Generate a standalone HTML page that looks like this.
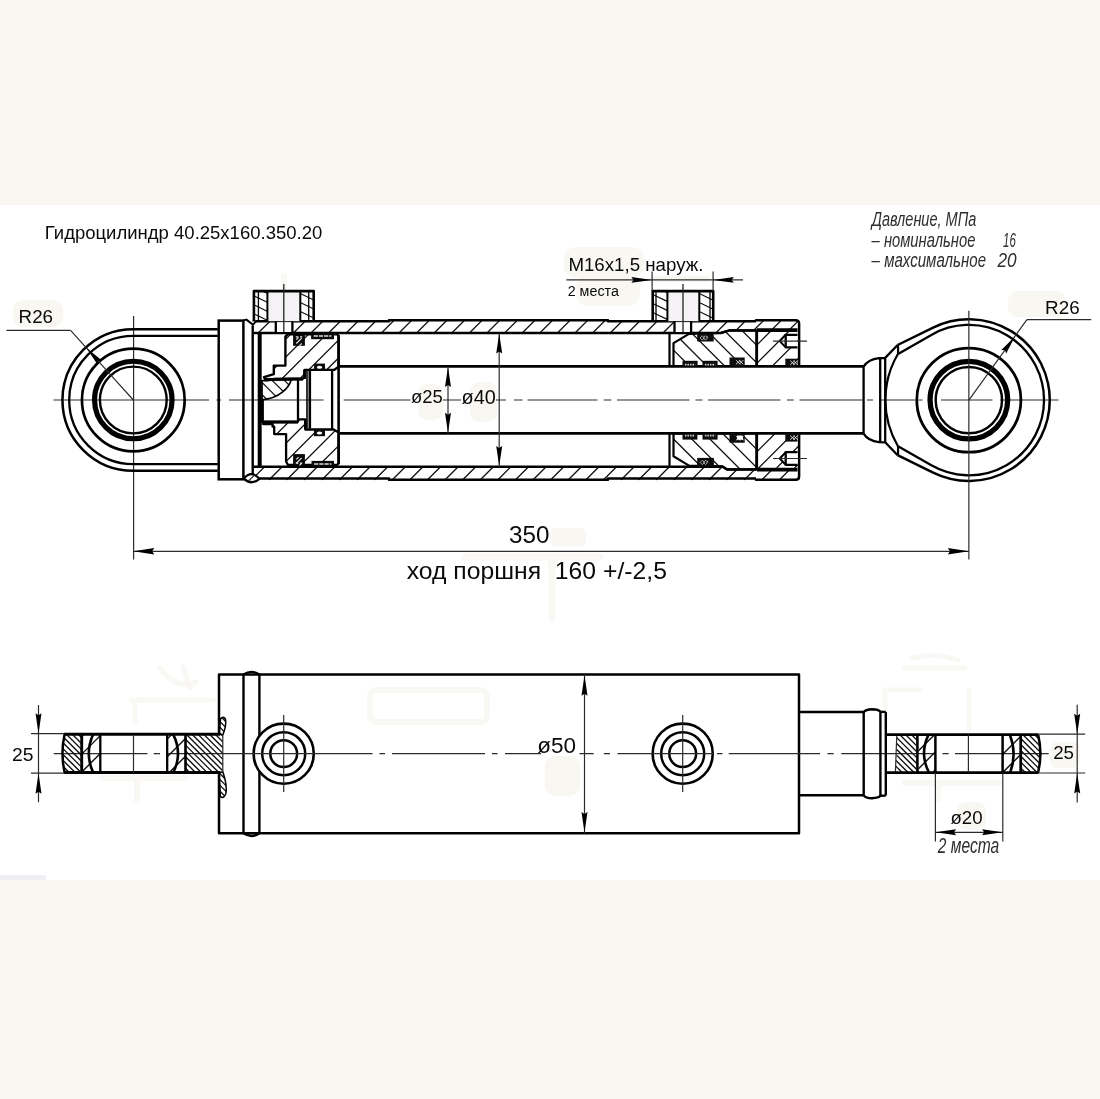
<!DOCTYPE html>
<html lang="ru">
<head>
<meta charset="utf-8">
<title>Гидроцилиндр 40.25х160.350.20</title>
<style>
html,body{margin:0;padding:0;background:#f9f6f1;}
body{width:1100px;height:1099px;overflow:hidden;position:relative;}
#sheet{position:absolute;left:0;top:205px;width:1100px;height:675px;background:#fff;}
svg{position:absolute;left:0;top:0;will-change:transform;}
text{font-family:"Liberation Sans",sans-serif;fill:#0a0a0a;}
</style>
</head>
<body>
<div id="sheet"></div>
<svg width="1100" height="1099" viewBox="0 0 1100 1099">
<defs>
<clipPath id="c1"><path d="M252.7 320H275.8V333.2H252.7Z M292.4 320H674.5V333.2H292.4Z M691.1 320H798L798 330.2H729.5L721 333.2H691.1Z"/></clipPath>
<clipPath id="c2"><path d="M252.7 466.8H720L729.5 469.6H798L797 480.4H252.7Z"/></clipPath>
<clipPath id="c3"><path d="M253.9 291.1H267.4V321.2H253.9Z"/></clipPath>
<clipPath id="c4"><path d="M300.3 291.1H313.7V321.2H300.3Z"/></clipPath>
<clipPath id="c5"><path d="M652.7 291.1H667.4V321.2H652.7Z"/></clipPath>
<clipPath id="c6"><path d="M699.3 291.1H713.2V321.2H699.3Z"/></clipPath>
<clipPath id="c7"><path d="M285.4 336.6L287.6 334.3L337 334.3L338.6 336L338.6 366.8L334 369.9L304.5 369.9L304.5 377.4L302 379.4L297.5 378.8L275 379L265.8 380.4L264 377.1L273.8 374.2L273.8 365.6L285.4 365.6Z"/></clipPath>
<clipPath id="c8"><path d="M262 380.6L291.2 379.4C289.6 387 280 398.4 262 399.8Z"/></clipPath>
<clipPath id="c9"><path d="M263.2 424.2L272.6 424.2L272.6 426.7L274.2 426.7L274.2 434.1L286.1 434.1L286.1 461.5L288 465L337 465L338.6 463.4L338.6 432.4L333.6 429.5L305.3 429.5L305.3 419.3L299.2 419.3L297.6 422L263.2 422Z"/></clipPath>
<clipPath id="c10"><path d="M673.5 366L673.5 343.1L689 333.9L721 332.8L729.5 330.4L756.5 330.4L756.5 366Z"/></clipPath>
<clipPath id="c11"><path d="M673.5 433.5L673.5 456.2L689 465.6L722.5 466.4L727 469.3L756.5 469.3L756.5 433.5Z"/></clipPath>
<clipPath id="c12"><path d="M756.5 331.6L798.4 331.6L798.4 366L756.5 366Z"/></clipPath>
<clipPath id="c13"><path d="M756.5 433.5L798.4 433.5L798.4 468L756.5 468Z"/></clipPath>
<clipPath id="c14"><path d="M64.5 734.3H81.6V772.6H64.5Q60.4 753.6 64.5 734.3Z"/></clipPath>
<clipPath id="c15"><path d="M185.6 734.3H222.9V772.6H185.6ZM219.1 734.3L220.6 718.6Q223.8 715.4 225.6 719.6Q226.4 726 222.9 734.8ZM219.1 772.6L222.9 772.1Q227.6 786 225.8 794Q223.2 799.2 220.4 796.6Z"/></clipPath>
<clipPath id="c16"><path d="M82.4 734.3H100V772.6H82.4Z"/></clipPath>
<clipPath id="c17"><path d="M167 734.3H185V772.6H167Z"/></clipPath>
<clipPath id="c18"><path d="M896.8 734.6H916.4V772.6H895.4Q897 753.6 896.8 734.6Z"/></clipPath>
<clipPath id="c19"><path d="M1021.4 734.6H1038.2Q1042.6 753.6 1038.2 772.6H1021.4Z"/></clipPath>
<clipPath id="c20"><path d="M918.4 734.6H935V772.6H918.4Z"/></clipPath>
<clipPath id="c21"><path d="M1002 734.6H1020V772.6H1002Z"/></clipPath>
</defs>
<rect x="0" y="875" width="46" height="5" fill="#eef0f3"/>
<rect x="13" y="300" width="50" height="27" rx="10" fill="#f9f7f2"/>
<rect x="1008" y="291" width="58" height="26" rx="10" fill="#f9f7f2"/>
<rect x="564" y="247" width="80" height="31" rx="12" fill="#f9f7f2"/>
<rect x="576" y="276" width="64" height="30" rx="12" fill="#f9f7f2"/>
<rect x="652" y="276" width="58" height="6" rx="3" fill="#f9f7f2"/>
<rect x="418" y="384" width="25" height="36" rx="9" fill="#f9f7f2"/>
<rect x="470" y="382" width="27" height="40" rx="9" fill="#f9f7f2"/>
<rect x="550" y="528" width="36" height="18" rx="6" fill="#f9f7f2"/>
<path d="M465 557H600 M552 560V618" fill="none" stroke="#faf8f4" stroke-width="7" stroke-linecap="round" stroke-linejoin="round"/>
<path d="M256 293H313 M284 276V292" fill="none" stroke="#faf8f4" stroke-width="6" stroke-linecap="round" stroke-linejoin="round"/>
<rect x="370" y="690" width="117" height="32" rx="6" fill="none" stroke="#faf8f4" stroke-width="6"/>
<path d="M131 700H214 M135 700V722 M160 668Q175 690 196 682 M183 666L190 688" fill="none" stroke="#faf8f4" stroke-width="5" stroke-linecap="round" stroke-linejoin="round"/>
<path d="M102 778H186 M137 782V800" fill="none" stroke="#faf8f4" stroke-width="6" stroke-linecap="round" stroke-linejoin="round"/>
<path d="M905 668H965 M912 658Q935 652 958 660 M885 690V728 M969 690V730 M885 690H920" fill="none" stroke="#faf8f4" stroke-width="5" stroke-linecap="round" stroke-linejoin="round"/>
<path d="M905 783H1000 M938 786V800" fill="none" stroke="#faf8f4" stroke-width="6" stroke-linecap="round" stroke-linejoin="round"/>
<rect x="545" y="756" width="35" height="40" rx="10" fill="#f9f7f2"/>
<rect x="957" y="802" width="29" height="28" rx="9" fill="#f9f7f2"/>
<rect x="1050" y="742" width="30" height="26" rx="8" fill="#f9f7f2"/>
<line x1="133.6" y1="316" x2="133.6" y2="559.6" stroke="#2c2c2c" stroke-width="1.2"/>
<path d="M53.5 400H209M216.4 400H221M229 400H323.6M343.7 400H410.5M443 400H461M496 400H506M514 400H522.5M527.5 400H597.5M603.75 400H611.25M617 400H689.5M695.5 400H702.5M708 400H780.5M787 400H793.75M799.5 400H862.5M867 400H873M879 400H915M918.6 400H922.5M941 400H992.5M1000 400H1058.5" fill="none" stroke="#2c2c2c" stroke-width="1.2"/>
<path d="M217.8 329.15 H133.3 A70.85 70.85 0 0 0 133.3 470.85 H217.8" fill="none" stroke="#000" stroke-width="2.5" stroke-linejoin="round"/>
<path d="M217.8 335.9 H133.3 A64.1 64.1 0 0 0 133.3 464.1 H217.8" fill="none" stroke="#000" stroke-width="2.3" stroke-linejoin="round"/>
<circle cx="133.3" cy="400" r="51.35" fill="none" stroke="#000" stroke-width="2.7"/>
<circle cx="133.3" cy="400" r="38.75" fill="none" stroke="#000" stroke-width="5.2"/>
<circle cx="133.3" cy="400" r="33.4" fill="none" stroke="#000" stroke-width="2.4"/>
<line x1="6.5" y1="330.4" x2="70.6" y2="330.4" stroke="#2c2c2c" stroke-width="1.2"/>
<line x1="70.6" y1="330.4" x2="133.3" y2="400" stroke="#2c2c2c" stroke-width="1.2"/>
<polygon points="86.3,347.7 101.92,360.55 98.35,361.07 97.46,364.57" fill="#000"/>
<text transform="translate(18.6 322.8) scale(0.9943 1)" font-size="18.88">R26</text>
<rect x="218.7" y="320.6" width="24.7" height="158.7" fill="none" stroke="#000" stroke-width="2.5"/>
<path d="M243.6 320.4L246.4 319.6L253 324.8L255.8 321.4" fill="#fff" stroke="#000" stroke-width="2" stroke-linejoin="round"/>
<path clip-path="url(#c1)" d="M205.4 333L219.4 319M223 333L237 319M240.6 333L254.6 319M258.2 333L272.2 319M275.8 333L289.8 319M293.4 333L307.4 319M311 333L325 319M328.6 333L342.6 319M346.2 333L360.2 319M363.8 333L377.8 319M381.4 333L395.4 319M399 333L413 319M416.6 333L430.6 319M434.2 333L448.2 319M451.8 333L465.8 319M469.4 333L483.4 319M487 333L501 319M504.6 333L518.6 319M522.2 333L536.2 319M539.8 333L553.8 319M557.4 333L571.4 319M575 333L589 319M592.6 333L606.6 319M610.2 333L624.2 319M627.8 333L641.8 319M645.4 333L659.4 319M663 333L677 319M680.6 333L694.6 319M698.2 333L712.2 319M715.8 333L729.8 319M733.4 333L747.4 319M751 333L765 319M768.6 333L782.6 319M786.2 333L800.2 319M803.8 333L817.8 319M821.4 333L835.4 319" fill="none" stroke="#111" stroke-width="1.3"/>
<path clip-path="url(#c2)" d="M216.1 480L230.1 466M233.7 480L247.7 466M251.3 480L265.3 466M268.9 480L282.9 466M286.5 480L300.5 466M304.1 480L318.1 466M321.7 480L335.7 466M339.3 480L353.3 466M356.9 480L370.9 466M374.5 480L388.5 466M392.1 480L406.1 466M409.7 480L423.7 466M427.3 480L441.3 466M444.9 480L458.9 466M462.5 480L476.5 466M480.1 480L494.1 466M497.7 480L511.7 466M515.3 480L529.3 466M532.9 480L546.9 466M550.5 480L564.5 466M568.1 480L582.1 466M585.7 480L599.7 466M603.3 480L617.3 466M620.9 480L634.9 466M638.5 480L652.5 466M656.1 480L670.1 466M673.7 480L687.7 466M691.3 480L705.3 466M708.9 480L722.9 466M726.5 480L740.5 466M744.1 480L758.1 466M761.7 480L775.7 466M779.3 480L793.3 466M796.9 480L810.9 466M814.5 480L828.5 466" fill="none" stroke="#111" stroke-width="1.3"/>
<path d="M255.2 321.2H389V320.3H608V321.2H756" fill="none" stroke="#000" stroke-width="2.5" stroke-linejoin="round"/>
<path d="M756 321.2V320.2H795.6Q799.1 320.2 799.1 323.6V366.45" fill="none" stroke="#000" stroke-width="2.5" stroke-linejoin="round"/>
<path d="M256.7 478.4H389V479.8H608V478.4H756" fill="none" stroke="#000" stroke-width="2.5" stroke-linejoin="round"/>
<path d="M756 478.4V479.8H795.6Q799.1 479.8 799.1 476.4V433.4" fill="none" stroke="#000" stroke-width="2.5" stroke-linejoin="round"/>
<path d="M252.7 333H721L729.5 330.4H756.5" fill="none" stroke="#000" stroke-width="2.5" stroke-linejoin="round"/>
<path d="M252.7 466.7H722.5L727 469.4H756.5" fill="none" stroke="#000" stroke-width="2.5" stroke-linejoin="round"/>
<line x1="252.7" y1="325.5" x2="252.7" y2="476" stroke="#000" stroke-width="2.4"/>
<line x1="259.7" y1="333" x2="259.7" y2="466.7" stroke="#000" stroke-width="4"/>
<line x1="757" y1="330.2" x2="797.5" y2="330.2" stroke="#000" stroke-width="3.8"/>
<line x1="757" y1="469.6" x2="797.5" y2="469.6" stroke="#000" stroke-width="3.8"/>
<path d="M243.8 478.6Q251.3 469.6 259.4 478.8Q251.3 485.8 243.8 478.6Z" fill="#fff" stroke="#000" stroke-width="2.2" stroke-linejoin="round"/>
<line x1="248.6" y1="480.8" x2="254.4" y2="475.2" stroke="#333" stroke-width="1.2"/>
<rect x="267.4" y="291.1" width="32.9" height="30.1" fill="#f4f2f4" stroke="none" stroke-width="0"/>
<path clip-path="url(#c3)" d="M169.06 291.1L231.77 321.2M187.81 291.1L250.52 321.2M206.56 291.1L269.27 321.2M225.31 291.1L288.02 321.2M244.06 291.1L306.77 321.2M262.81 291.1L325.52 321.2M281.56 291.1L344.27 321.2M300.31 291.1L363.02 321.2M319.06 291.1L381.77 321.2M337.81 291.1L400.52 321.2" fill="none" stroke="#111" stroke-width="1.25"/>
<path clip-path="url(#c4)" d="M201.42 291.1L264.12 321.2M220.17 291.1L282.88 321.2M238.92 291.1L301.62 321.2M257.67 291.1L320.38 321.2M276.42 291.1L339.12 321.2M295.17 291.1L357.88 321.2M313.92 291.1L376.62 321.2M332.67 291.1L395.38 321.2M351.42 291.1L414.12 321.2M370.17 291.1L432.88 321.2M388.92 291.1L451.62 321.2" fill="none" stroke="#111" stroke-width="1.25"/>
<path d="M253.9 321.2V291.1H313.7V321.2" fill="none" stroke="#000" stroke-width="2.6" stroke-linejoin="round"/>
<line x1="267.4" y1="291.1" x2="267.4" y2="321.2" stroke="#000" stroke-width="2"/>
<line x1="300.3" y1="291.1" x2="300.3" y2="321.2" stroke="#000" stroke-width="2"/>
<line x1="258.4" y1="291.1" x2="258.4" y2="321.2" stroke="#000" stroke-width="1.3"/>
<line x1="308.7" y1="291.1" x2="308.7" y2="321.2" stroke="#000" stroke-width="1.3"/>
<rect x="275.8" y="322.2" width="16.6" height="9.8" fill="#fff" stroke="none" stroke-width="0"/>
<line x1="275.8" y1="321.2" x2="275.8" y2="333" stroke="#000" stroke-width="2.3"/>
<line x1="292.4" y1="321.2" x2="292.4" y2="333" stroke="#000" stroke-width="2.3"/>
<line x1="283.8" y1="284" x2="283.8" y2="332.4" stroke="#222" stroke-width="1.3"/>
<rect x="667.4" y="291.1" width="31.9" height="30.1" fill="#f4f2f4" stroke="none" stroke-width="0"/>
<path clip-path="url(#c5)" d="M570.76 291.1L633.47 321.2M589.51 291.1L652.22 321.2M608.26 291.1L670.97 321.2M627.01 291.1L689.72 321.2M645.76 291.1L708.47 321.2M664.51 291.1L727.22 321.2M683.26 291.1L745.97 321.2M702.01 291.1L764.72 321.2M720.76 291.1L783.47 321.2M739.51 291.1L802.22 321.2" fill="none" stroke="#111" stroke-width="1.25"/>
<path clip-path="url(#c6)" d="M600.52 291.1L663.23 321.2M619.27 291.1L681.98 321.2M638.02 291.1L700.73 321.2M656.77 291.1L719.48 321.2M675.52 291.1L738.23 321.2M694.27 291.1L756.98 321.2M713.02 291.1L775.73 321.2M731.77 291.1L794.48 321.2M750.52 291.1L813.23 321.2M769.27 291.1L831.98 321.2M788.02 291.1L850.73 321.2" fill="none" stroke="#111" stroke-width="1.25"/>
<path d="M652.7 321.2V291.1H713.2V321.2" fill="none" stroke="#000" stroke-width="2.6" stroke-linejoin="round"/>
<line x1="667.4" y1="291.1" x2="667.4" y2="321.2" stroke="#000" stroke-width="2"/>
<line x1="699.3" y1="291.1" x2="699.3" y2="321.2" stroke="#000" stroke-width="2"/>
<line x1="656" y1="291.1" x2="656" y2="321.2" stroke="#000" stroke-width="1.3"/>
<line x1="710" y1="291.1" x2="710" y2="321.2" stroke="#000" stroke-width="1.3"/>
<rect x="674.5" y="322.2" width="16.6" height="9.8" fill="#fff" stroke="none" stroke-width="0"/>
<line x1="674.5" y1="321.2" x2="674.5" y2="333" stroke="#000" stroke-width="2.3"/>
<line x1="691.1" y1="321.2" x2="691.1" y2="333" stroke="#000" stroke-width="2.3"/>
<line x1="683" y1="284" x2="683" y2="332.4" stroke="#222" stroke-width="1.3"/>
<line x1="338.7" y1="366.45" x2="863.3" y2="366.45" stroke="#000" stroke-width="2.8"/>
<line x1="339.3" y1="433.4" x2="863.3" y2="433.4" stroke="#000" stroke-width="2.8"/>
<path clip-path="url(#c7)" d="M190.2 381L238.2 333M208.1 381L256.1 333M226 381L274 333M243.9 381L291.9 333M261.8 381L309.8 333M279.7 381L327.7 333M297.6 381L345.6 333M315.5 381L363.5 333M333.4 381L381.4 333M351.3 381L399.3 333M369.2 381L417.2 333M387.1 381L435.1 333M405 381L453 333" fill="none" stroke="#111" stroke-width="1.3"/>
<polygon points="285.4,336.6 287.6,334.3 337,334.3 338.6,336 338.6,366.8 334,369.9 304.5,369.9 304.5,377.4 302,379.4 297.5,378.8 275,379 265.8,380.4 264,377.1 273.8,374.2 273.8,365.6 285.4,365.6" fill="none" stroke="#000" stroke-width="2.4" stroke-linejoin="round"/>
<line x1="265.6" y1="379.3" x2="303" y2="379" stroke="#000" stroke-width="2.8"/>
<path clip-path="url(#c8)" d="M222 379L243 400M234.2 379L255.2 400M246.4 379L267.4 400M258.6 379L279.6 400M270.8 379L291.8 400M283 379L304 400M295.2 379L316.2 400M307.4 379L328.4 400M319.6 379L340.6 400" fill="none" stroke="#111" stroke-width="1.2"/>
<path d="M262 380.6L291.2 379.4C289.6 387 280 398.4 262 399.8Z" fill="none" stroke="#000" stroke-width="1.7" stroke-linejoin="round"/>
<path clip-path="url(#c9)" d="M189.5 466L236.5 419M207.9 466L254.9 419M226.3 466L273.3 419M244.7 466L291.7 419M263.1 466L310.1 419M281.5 466L328.5 419M299.9 466L346.9 419M318.3 466L365.3 419M336.7 466L383.7 419M355.1 466L402.1 419M373.5 466L420.5 419M391.9 466L438.9 419" fill="none" stroke="#111" stroke-width="1.3"/>
<polygon points="263.2,424.2 272.6,424.2 272.6,426.7 274.2,426.7 274.2,434.1 286.1,434.1 286.1,461.5 288,465 337,465 338.6,463.4 338.6,432.4 333.6,429.5 305.3,429.5 305.3,419.3 299.2,419.3 297.6,422 263.2,422" fill="none" stroke="#000" stroke-width="2.3" stroke-linejoin="round"/>
<line x1="261.6" y1="400" x2="261.6" y2="423" stroke="#000" stroke-width="4.6"/>
<line x1="262.3" y1="422" x2="298" y2="422" stroke="#000" stroke-width="3.2"/>
<path d="M298 380V420.5" fill="none" stroke="#000" stroke-width="2.3" stroke-linejoin="round"/>
<path d="M304.6 370V379 M305.3 419.3V429.5" fill="none" stroke="#000" stroke-width="2.6" stroke-linejoin="round"/>
<path d="M307 369.9V428.6" fill="none" stroke="#000" stroke-width="1.6" stroke-linejoin="round"/>
<path d="M309.8 369.9V428.6" fill="none" stroke="#000" stroke-width="2.6" stroke-linejoin="round"/>
<path d="M332.1 369.9V429.5" fill="none" stroke="#000" stroke-width="2.3" stroke-linejoin="round"/>
<line x1="338.6" y1="335" x2="338.6" y2="464" stroke="#000" stroke-width="2.6"/>
<rect x="293.1" y="334.4" width="11.8" height="11.4" fill="#0a0a0a" stroke="none" stroke-width="0"/>
<path d="M296.3 343.5l5.4 -5.4m-5.4 1.6l2.2 -2.2m3.2 6l-2.2 2.2" stroke="#e8e8e8" stroke-width="1.1" fill="none"/>
<path d="M295.8 336.8h2.6m1.6 0h2.2" stroke="#e8e8e8" stroke-width="1.2" fill="none"/>
<rect x="293.1" y="454.1" width="11.8" height="11.5" fill="#0a0a0a" stroke="none" stroke-width="0"/>
<path d="M296.3 463.25l5.4 -5.4m-5.4 1.6l2.2 -2.2m3.2 6l-2.2 2.2" stroke="#e8e8e8" stroke-width="1.1" fill="none"/>
<path d="M295.8 463.2h2.6m1.6 0h2.2" stroke="#e8e8e8" stroke-width="1.2" fill="none"/>
<rect x="311.1" y="334.1" width="22.9" height="5.1" fill="#0a0a0a" stroke="none" stroke-width="0"/>
<path d="M313.7 336h17.7" stroke="#dcdcdc" stroke-width="1.5" stroke-dasharray="4.2 1" fill="none"/>
<rect x="311.5" y="460.9" width="22.5" height="4.9" fill="#0a0a0a" stroke="none" stroke-width="0"/>
<path d="M314.1 463.9h17.3" stroke="#dcdcdc" stroke-width="1.5" stroke-dasharray="4.2 1" fill="none"/>
<rect x="314.1" y="363.6" width="10.9" height="6.7" fill="#0a0a0a" stroke="none" stroke-width="0"/>
<ellipse cx="319.55" cy="367.15" rx="2.7" ry="1.5" fill="#fff"/>
<rect x="313.9" y="429.6" width="11.1" height="6.6" fill="#0a0a0a" stroke="none" stroke-width="0"/>
<ellipse cx="319.45" cy="433.1" rx="2.7" ry="1.5" fill="#fff"/>
<path clip-path="url(#c10)" d="M599.6 329L637.6 367M617.2 329L655.2 367M634.8 329L672.8 367M652.4 329L690.4 367M670 329L708 367M687.6 329L725.6 367M705.2 329L743.2 367M722.8 329L760.8 367M740.4 329L778.4 367M758 329L796 367M775.6 329L813.6 367M793.2 329L831.2 367M810.8 329L848.8 367" fill="none" stroke="#111" stroke-width="1.3"/>
<path clip-path="url(#c11)" d="M612.9 433L649.9 470M631.1 433L668.1 470M649.3 433L686.3 470M667.5 433L704.5 470M685.7 433L722.7 470M703.9 433L740.9 470M722.1 433L759.1 470M740.3 433L777.3 470M758.5 433L795.5 470M776.7 433L813.7 470M794.9 433L831.9 470" fill="none" stroke="#111" stroke-width="1.3"/>
<polygon points="673.5,366 673.5,343.1 689,333.9 721,332.8 729.5,330.4 756.5,330.4 756.5,366" fill="none" stroke="#000" stroke-width="2.2" stroke-linejoin="round"/>
<polygon points="673.5,433.5 673.5,456.2 689,465.6 722.5,466.4 727,469.3 756.5,469.3 756.5,433.5" fill="none" stroke="#000" stroke-width="2.2" stroke-linejoin="round"/>
<line x1="669.5" y1="333" x2="669.5" y2="366.45" stroke="#000" stroke-width="2.2"/>
<line x1="669.5" y1="433.4" x2="669.5" y2="466.7" stroke="#000" stroke-width="2.2"/>
<path clip-path="url(#c12)" d="M698.2 367L734.2 331M716.5 367L752.5 331M734.8 367L770.8 331M753.1 367L789.1 331M771.4 367L807.4 331M789.7 367L825.7 331M808 367L844 331M826.3 367L862.3 331M844.6 367L880.6 331" fill="none" stroke="#111" stroke-width="1.3"/>
<path clip-path="url(#c13)" d="M686.6 468L721.6 433M704.6 468L739.6 433M722.6 468L757.6 433M740.6 468L775.6 433M758.6 468L793.6 433M776.6 468L811.6 433M794.6 468L829.6 433M812.6 468L847.6 433M830.6 468L865.6 433M848.6 468L883.6 433" fill="none" stroke="#111" stroke-width="1.3"/>
<line x1="756.8" y1="330" x2="756.8" y2="366" stroke="#000" stroke-width="2.6"/>
<line x1="756.8" y1="433.5" x2="756.8" y2="469.4" stroke="#000" stroke-width="2.6"/>
<rect x="697.2" y="333.8" width="16.5" height="7.7" fill="#0c0c0c" stroke="none" stroke-width="0"/>
<path d="M700.05 337.95l2.2 -2.2l2.2 2.2l-2.2 2.2zm3.2 0l2.2 -2.2l2.2 2.2l-2.2 2.2zm3.2 0l1.6 -1.6" stroke="#cfcfcf" stroke-width="0.8" fill="none"/>
<rect x="697.2" y="457.9" width="16.7" height="8.4" fill="#0c0c0c" stroke="none" stroke-width="0"/>
<path d="M700.15 462.4l2.2 -2.2l2.2 2.2l-2.2 2.2zm3.2 0l2.2 -2.2l2.2 2.2l-2.2 2.2zm3.2 0l1.6 -1.6" stroke="#cfcfcf" stroke-width="0.8" fill="none"/>
<rect x="682.5" y="360.8" width="15.1" height="5.8" fill="#0c0c0c" stroke="none" stroke-width="0"/>
<path d="M684.9 364.6h10.3" stroke="#c8c8c8" stroke-width="1.7" stroke-dasharray="1.6 0.9" fill="none"/>
<rect x="702.5" y="360.8" width="15.1" height="5.8" fill="#0c0c0c" stroke="none" stroke-width="0"/>
<path d="M704.9 364.6h10.3" stroke="#c8c8c8" stroke-width="1.7" stroke-dasharray="1.6 0.9" fill="none"/>
<rect x="682.5" y="433.4" width="14.9" height="6.2" fill="#0c0c0c" stroke="none" stroke-width="0"/>
<path d="M684.9 435.6h10.1" stroke="#c8c8c8" stroke-width="1.7" stroke-dasharray="1.6 0.9" fill="none"/>
<rect x="702.5" y="433.4" width="15.1" height="6.2" fill="#0c0c0c" stroke="none" stroke-width="0"/>
<path d="M704.9 435.6h10.3" stroke="#c8c8c8" stroke-width="1.7" stroke-dasharray="1.6 0.9" fill="none"/>
<rect x="729.5" y="357.5" width="15.2" height="9.1" fill="#0c0c0c" stroke="none" stroke-width="0"/>
<path d="M735.9 360.15l4.6 4.2m0 -4.2l-4.6 4.2m3.2 -4.2l4.2 4.2m0 -4.2l-4.2 4.2" stroke="#e6e6e6" stroke-width="0.9" fill="none"/>
<rect x="729.5" y="433.4" width="15.2" height="9.3" fill="#0c0c0c" stroke="none" stroke-width="0"/>
<path d="M735.9 436.15l4.6 4.2m0 -4.2l-4.6 4.2m3.2 -4.2l4.2 4.2m0 -4.2l-4.2 4.2" stroke="#e6e6e6" stroke-width="0.9" fill="none"/>
<path d="M737 435.5h5.5l1 4.2h-6.5z" fill="#fff"/>
<rect x="785.3" y="358.7" width="12.2" height="7.7" fill="#0c0c0c" stroke="none" stroke-width="0"/>
<path d="M790.2 360.65l4.6 4.2m0 -4.2l-4.6 4.2m3.2 -4.2l4.2 4.2m0 -4.2l-4.2 4.2" stroke="#e6e6e6" stroke-width="0.9" fill="none"/>
<rect x="785.3" y="433.4" width="12.2" height="8.2" fill="#0c0c0c" stroke="none" stroke-width="0"/>
<path d="M790.2 435.6l4.6 4.2m0 -4.2l-4.6 4.2m3.2 -4.2l4.2 4.2m0 -4.2l-4.2 4.2" stroke="#e6e6e6" stroke-width="0.9" fill="none"/>
<path d="M785.7 334.8L779.8 341.1L785.7 347.4" fill="#fff" stroke="#000" stroke-width="2" stroke-linejoin="round"/>
<path d="M797.5 334.8H785.7V347.4H797.5" fill="#fff" stroke="#000" stroke-width="2.3" stroke-linejoin="round"/>
<line x1="773" y1="341.1" x2="807" y2="341.1" stroke="#2c2c2c" stroke-width="1.2"/>
<path d="M785.7 452.2L779.8 458.5L785.7 464.8" fill="#fff" stroke="#000" stroke-width="2" stroke-linejoin="round"/>
<path d="M797.5 452.2H785.7V464.8H797.5" fill="#fff" stroke="#000" stroke-width="2.3" stroke-linejoin="round"/>
<line x1="773" y1="458.5" x2="807" y2="458.5" stroke="#2c2c2c" stroke-width="1.2"/>
<path d="M897.6 345L933.13 327.52A80.9 80.9 0 1 1 933.13 472.68L897.6 455.2" fill="none" stroke="#000" stroke-width="2.5" stroke-linejoin="round"/>
<path d="M898.5 353.8L931.37 334.9A75.2 75.2 0 1 1 931.37 465.3L898.5 446.4" fill="none" stroke="#000" stroke-width="2.3" stroke-linejoin="round"/>
<line x1="898.05" y1="345" x2="898.05" y2="354.1" stroke="#000" stroke-width="2.2"/>
<line x1="898.05" y1="455.2" x2="898.05" y2="446.1" stroke="#000" stroke-width="2.2"/>
<path d="M898.2 353.5A91.2 91.2 0 0 0 898.2 446.7" fill="none" stroke="#000" stroke-width="2.2" stroke-linejoin="round"/>
<circle cx="968.85" cy="400.1" r="52.05" fill="none" stroke="#000" stroke-width="2.8"/>
<circle cx="968.85" cy="400.1" r="38.8" fill="none" stroke="#000" stroke-width="5.3"/>
<circle cx="968.85" cy="400.1" r="33.2" fill="none" stroke="#000" stroke-width="2.45"/>
<path d="M863.6 366.5V433.4 M863.6 366.6Q868 359.4 879 358.1L885.2 357.9 M863.6 433.6Q868 440.8 879 442.1L885.2 442.3 M880.2 358V442.2 M885.2 357.9V442.3 M885.2 357.9L897.6 345 M885.2 442.3L897.6 455.2" fill="none" stroke="#000" stroke-width="2.3" stroke-linejoin="round"/>
<line x1="968.85" y1="310.7" x2="968.85" y2="559.6" stroke="#2c2c2c" stroke-width="1.2"/>
<line x1="1026.9" y1="319.7" x2="1091.2" y2="319.7" stroke="#2c2c2c" stroke-width="1.2"/>
<line x1="1026.9" y1="319.7" x2="968.85" y2="400.1" stroke="#2c2c2c" stroke-width="1.2"/>
<polygon points="1014.9,336.4 1006.21,353.56 1004.89,350.26 1001.35,350.05" fill="#000"/>
<text transform="translate(1045.09 313.5) scale(1.0090 1)" font-size="18.66">R26</text>
<line x1="448" y1="366.45" x2="448" y2="433.4" stroke="#2c2c2c" stroke-width="1.2"/>
<polygon points="448,367.05 451,387.05 448,385.05 445,387.05" fill="#000"/>
<polygon points="448,432.8 445,412.8 448,414.8 451,412.8" fill="#000"/>
<text transform="translate(411.04 403.3) scale(0.9991 1)" font-size="18.45">ø25</text>
<line x1="499.2" y1="333" x2="499.2" y2="466.7" stroke="#2c2c2c" stroke-width="1.2"/>
<polygon points="499.2,333.6 502.2,353.6 499.2,351.6 496.2,353.6" fill="#000"/>
<polygon points="499.2,466.1 496.2,446.1 499.2,448.1 502.2,446.1" fill="#000"/>
<text transform="translate(461.5 404.4) scale(0.9643 1)" font-size="20.61">ø40</text>
<line x1="133.3" y1="551.3" x2="968.85" y2="551.3" stroke="#2c2c2c" stroke-width="1.2"/>
<polygon points="133.3,551.3 154.3,548.1 152.2,551.3 154.3,554.5" fill="#000"/>
<polygon points="968.85,551.3 947.85,554.5 949.95,551.3 947.85,548.1" fill="#000"/>
<text transform="translate(509.03 543) scale(1.0150 1)" font-size="23.87">350</text>
<text transform="translate(406.73 579.2) scale(1.0364 1)" font-size="23.87" xml:space="preserve">ход поршня&#160; 160 +/-2,5</text>
<line x1="652.1" y1="271.4" x2="652.1" y2="291" stroke="#2c2c2c" stroke-width="1.2"/>
<line x1="713.1" y1="271.4" x2="713.1" y2="291" stroke="#2c2c2c" stroke-width="1.2"/>
<line x1="566.4" y1="279.9" x2="743" y2="279.9" stroke="#2c2c2c" stroke-width="1.2"/>
<polygon points="652,279.9 631.4,282.7 633.46,279.9 631.4,277.1" fill="#000"/>
<polygon points="713.2,279.9 733.8,277.1 731.74,279.9 733.8,282.7" fill="#000"/>
<text transform="translate(568.4 270.5) scale(0.9967 1)" font-size="18.77">М16х1,5 наруж.</text>
<text transform="translate(567.68 296.4) scale(0.9914 1)" font-size="14.43">2 места</text>
<text transform="translate(44.82 239) scale(1.0041 1)" font-size="18.45">Гидроцилиндр 40.25х160.350.20</text>
<text transform="translate(871.71 225.5) scale(0.7199 1)" font-size="20.18" font-style="italic" style="fill:#2e2e2e">Давление, МПа</text>
<text transform="translate(871.57 246.9) scale(0.7327 1)" font-size="20.18" font-style="italic" style="fill:#2e2e2e">– номинальное</text>
<text transform="translate(1003.01 246.9) scale(0.5709 1)" font-size="20.18" font-style="italic" style="fill:#2e2e2e">16</text>
<text transform="translate(871.58 267.3) scale(0.7462 1)" font-size="20.18" font-style="italic" style="fill:#2e2e2e">– махсимальное</text>
<text transform="translate(997.39 267.3) scale(0.8526 1)" font-size="20.18" font-style="italic" style="fill:#2e2e2e">20</text>
<path d="M219 734.3V674.5H799V833.3H219V772.6" fill="none" stroke="#000" stroke-width="2.5" stroke-linejoin="round"/>
<path d="M243.5 674.5V833.3 M259.4 674.5V833.3 M243.5 674.5Q251.5 669.3 259.4 674.5 M243.5 833.3Q251.5 838.6 259.4 833.3" fill="none" stroke="#000" stroke-width="2.4" stroke-linejoin="round"/>
<circle cx="283.7" cy="753.7" r="30.05" fill="#fff" stroke="#000" stroke-width="2.6"/>
<circle cx="283.7" cy="753.7" r="21.5" fill="none" stroke="#000" stroke-width="2.5"/>
<circle cx="283.7" cy="753.7" r="13.4" fill="none" stroke="#000" stroke-width="2.5"/>
<line x1="283.7" y1="715" x2="283.7" y2="792" stroke="#2c2c2c" stroke-width="1.2"/>
<circle cx="682.7" cy="753.7" r="30.05" fill="#fff" stroke="#000" stroke-width="2.6"/>
<circle cx="682.7" cy="753.7" r="21.5" fill="none" stroke="#000" stroke-width="2.5"/>
<circle cx="682.7" cy="753.7" r="13.4" fill="none" stroke="#000" stroke-width="2.5"/>
<line x1="682.7" y1="715" x2="682.7" y2="792" stroke="#2c2c2c" stroke-width="1.2"/>
<path d="M53.75 753.6H147.5M153.75 753.6H160M166.25 753.6H372.5M379.5 753.6H385M392 753.6H485M492 753.6H497.5M505 753.6H541M579.5 753.6H593.75M603.75 753.6H610M617.5 753.6H714M717 753.6H722.5M728.75 753.6H820M827.5 753.6H833.75M841.25 753.6H936M942.5 753.6H948.75M955 753.6H1048.75" fill="none" stroke="#2c2c2c" stroke-width="1.2"/>
<line x1="584.5" y1="674.5" x2="584.5" y2="833.3" stroke="#2c2c2c" stroke-width="1.2"/>
<polygon points="584.5,675.3 587.5,695.8 584.5,693.75 581.5,695.8" fill="#000"/>
<polygon points="584.5,832.5 581.5,812 584.5,814.05 587.5,812" fill="#000"/>
<text transform="translate(537.14 752.5) scale(1.0084 1)" font-size="22.35">ø50</text>
<path d="M799 712.1H863.7 M799 795.3H863.7" fill="none" stroke="#000" stroke-width="2.5" stroke-linejoin="round"/>
<path d="M863.7 712.1V795.3 M880.4 711.2V796.2 M885.8 711.9V795.5 M863.7 712.1Q865.5 709.4 872 709.2Q878.6 709.4 880.4 711.6L885.8 711.9 M863.7 795.3Q865.5 798 872 798.2Q878.6 798 880.4 795.8L885.8 795.5" fill="none" stroke="#000" stroke-width="2.4" stroke-linejoin="round"/>
<path clip-path="url(#c14)" d="M13.3 734.3L51.6 772.6M19.2 734.3L57.5 772.6M25.1 734.3L63.4 772.6M31 734.3L69.3 772.6M36.9 734.3L75.2 772.6M42.8 734.3L81.1 772.6M48.7 734.3L87 772.6M54.6 734.3L92.9 772.6M60.5 734.3L98.8 772.6M66.4 734.3L104.7 772.6M72.3 734.3L110.6 772.6M78.2 734.3L116.5 772.6M84.1 734.3L122.4 772.6M90 734.3L128.3 772.6M95.9 734.3L134.2 772.6M101.8 734.3L140.1 772.6M107.7 734.3L146 772.6M113.6 734.3L151.9 772.6M119.5 734.3L157.8 772.6M125.4 734.3L163.7 772.6" fill="none" stroke="#111" stroke-width="1.35"/>
<path d="M64.6 734.3Q60.3 753.6 64.6 772.6" fill="none" stroke="#000" stroke-width="2.5" stroke-linejoin="round"/>
<path clip-path="url(#c15)" d="M91.6 715L176.6 800M97.4 715L182.4 800M103.2 715L188.2 800M109 715L194 800M114.8 715L199.8 800M120.6 715L205.6 800M126.4 715L211.4 800M132.2 715L217.2 800M138 715L223 800M143.8 715L228.8 800M149.6 715L234.6 800M155.4 715L240.4 800M161.2 715L246.2 800M167 715L252 800M172.8 715L257.8 800M178.6 715L263.6 800M184.4 715L269.4 800M190.2 715L275.2 800M196 715L281 800M201.8 715L286.8 800M207.6 715L292.6 800M213.4 715L298.4 800M219.2 715L304.2 800M225 715L310 800M230.8 715L315.8 800M236.6 715L321.6 800M242.4 715L327.4 800M248.2 715L333.2 800M254 715L339 800M259.8 715L344.8 800M265.6 715L350.6 800M271.4 715L356.4 800M277.2 715L362.2 800M283 715L368 800M288.8 715L373.8 800M294.6 715L379.6 800M300.4 715L385.4 800M306.2 715L391.2 800M312 715L397 800M317.8 715L402.8 800" fill="none" stroke="#111" stroke-width="1.35"/>
<path d="M219.1 734.3L220.6 718.6Q223.8 715.4 225.6 719.6Q226.4 726 222.9 734.8Z" fill="none" stroke="#000" stroke-width="1.5" stroke-linejoin="round"/>
<path d="M219.1 772.6L222.9 772.1Q227.6 786 225.8 794Q223.2 799.2 220.4 796.6Z" fill="none" stroke="#000" stroke-width="1.5" stroke-linejoin="round"/>
<line x1="222.8" y1="734.3" x2="222.8" y2="772.6" stroke="#2c2c2c" stroke-width="1.2"/>
<path clip-path="url(#c16)" d="M9.9 772.6L48.2 734.3M27.7 772.6L66 734.3M45.5 772.6L83.8 734.3M63.3 772.6L101.6 734.3M81.1 772.6L119.4 734.3M98.9 772.6L137.2 734.3M116.7 772.6L155 734.3M134.5 772.6L172.8 734.3M152.3 772.6L190.6 734.3" fill="none" stroke="#111" stroke-width="1.35"/>
<path clip-path="url(#c17)" d="M98 772.6L136.3 734.3M115.8 772.6L154.1 734.3M133.6 772.6L171.9 734.3M151.4 772.6L189.7 734.3M169.2 772.6L207.5 734.3M187 772.6L225.3 734.3M204.8 772.6L243.1 734.3M222.6 772.6L260.9 734.3M240.4 772.6L278.7 734.3" fill="none" stroke="#111" stroke-width="1.35"/>
<line x1="64" y1="734.3" x2="220.2" y2="734.3" stroke="#000" stroke-width="3"/>
<line x1="64" y1="772.6" x2="220.2" y2="772.6" stroke="#000" stroke-width="3"/>
<line x1="81.7" y1="734.3" x2="81.7" y2="772.6" stroke="#000" stroke-width="2.9"/>
<line x1="100.3" y1="734.3" x2="100.3" y2="772.6" stroke="#000" stroke-width="2.3"/>
<line x1="167.2" y1="734.3" x2="167.2" y2="772.6" stroke="#000" stroke-width="2.3"/>
<line x1="185.5" y1="734.3" x2="185.5" y2="772.6" stroke="#000" stroke-width="2.6"/>
<line x1="133.5" y1="734.3" x2="133.5" y2="772.6" stroke="#2c2c2c" stroke-width="1.2"/>
<path d="M93.2 734.3Q84.4 753.6 93.2 772.6" fill="none" stroke="#000" stroke-width="2.6" stroke-linejoin="round"/>
<path d="M173.2 734.3Q182.8 753.6 173.2 772.6" fill="none" stroke="#000" stroke-width="2.6" stroke-linejoin="round"/>
<line x1="31" y1="733.7" x2="64.5" y2="733.7" stroke="#2c2c2c" stroke-width="1.2"/>
<line x1="31" y1="773.2" x2="64.5" y2="773.2" stroke="#2c2c2c" stroke-width="1.2"/>
<line x1="38.5" y1="705" x2="38.5" y2="802.2" stroke="#2c2c2c" stroke-width="1.2"/>
<polygon points="38.5,733.7 35.5,713.2 38.5,715.25 41.5,713.2" fill="#000"/>
<polygon points="38.5,773.2 41.5,793.7 38.5,791.65 35.5,793.7" fill="#000"/>
<text transform="translate(12.03 761) scale(1.0471 1)" font-size="18.45">25</text>
<path clip-path="url(#c18)" d="M846.5 734.6L884.5 772.6M852.4 734.6L890.4 772.6M858.3 734.6L896.3 772.6M864.2 734.6L902.2 772.6M870.1 734.6L908.1 772.6M876 734.6L914 772.6M881.9 734.6L919.9 772.6M887.8 734.6L925.8 772.6M893.7 734.6L931.7 772.6M899.6 734.6L937.6 772.6M905.5 734.6L943.5 772.6M911.4 734.6L949.4 772.6M917.3 734.6L955.3 772.6M923.2 734.6L961.2 772.6M929.1 734.6L967.1 772.6M935 734.6L973 772.6M940.9 734.6L978.9 772.6M946.8 734.6L984.8 772.6M952.7 734.6L990.7 772.6M958.6 734.6L996.6 772.6" fill="none" stroke="#111" stroke-width="1.35"/>
<line x1="896.8" y1="734.6" x2="895.4" y2="772.6" stroke="#2c2c2c" stroke-width="1.2"/>
<path clip-path="url(#c19)" d="M975.5 734.6L1013.5 772.6M981.4 734.6L1019.4 772.6M987.3 734.6L1025.3 772.6M993.2 734.6L1031.2 772.6M999.1 734.6L1037.1 772.6M1005 734.6L1043 772.6M1010.9 734.6L1048.9 772.6M1016.8 734.6L1054.8 772.6M1022.7 734.6L1060.7 772.6M1028.6 734.6L1066.6 772.6M1034.5 734.6L1072.5 772.6M1040.4 734.6L1078.4 772.6M1046.3 734.6L1084.3 772.6M1052.2 734.6L1090.2 772.6M1058.1 734.6L1096.1 772.6M1064 734.6L1102 772.6M1069.9 734.6L1107.9 772.6M1075.8 734.6L1113.8 772.6M1081.7 734.6L1119.7 772.6" fill="none" stroke="#111" stroke-width="1.35"/>
<path d="M1038.1 734.6Q1042.7 753.6 1038.1 772.6" fill="none" stroke="#000" stroke-width="2.5" stroke-linejoin="round"/>
<path clip-path="url(#c20)" d="M860.7 772.6L898.7 734.6M878.7 772.6L916.7 734.6M896.7 772.6L934.7 734.6M914.7 772.6L952.7 734.6M932.7 772.6L970.7 734.6M950.7 772.6L988.7 734.6M968.7 772.6L1006.7 734.6M986.7 772.6L1024.7 734.6" fill="none" stroke="#111" stroke-width="1.35"/>
<path clip-path="url(#c21)" d="M929.8 772.6L967.8 734.6M948 772.6L986 734.6M966.2 772.6L1004.2 734.6M984.4 772.6L1022.4 734.6M1002.6 772.6L1040.6 734.6M1020.8 772.6L1058.8 734.6M1039 772.6L1077 734.6M1057.2 772.6L1095.2 734.6M1075.4 772.6L1113.4 734.6" fill="none" stroke="#111" stroke-width="1.35"/>
<line x1="886.2" y1="734.6" x2="1038.6" y2="734.6" stroke="#000" stroke-width="2.9"/>
<line x1="886.2" y1="772.6" x2="1038.6" y2="772.6" stroke="#000" stroke-width="2.9"/>
<line x1="917.4" y1="734.6" x2="917.4" y2="772.6" stroke="#000" stroke-width="2.6"/>
<line x1="935.4" y1="734.6" x2="935.4" y2="772.6" stroke="#000" stroke-width="2.5"/>
<line x1="1002.6" y1="734.6" x2="1002.6" y2="772.6" stroke="#000" stroke-width="2.5"/>
<line x1="1020.7" y1="734.6" x2="1020.7" y2="772.6" stroke="#000" stroke-width="2.7"/>
<line x1="968.4" y1="734.6" x2="968.4" y2="772.6" stroke="#2c2c2c" stroke-width="1.2"/>
<path d="M928.6 734.6Q919.2 753.6 929.0 772.6" fill="none" stroke="#000" stroke-width="2.6" stroke-linejoin="round"/>
<path d="M1009.8 734.6Q1017.2 753.6 1010.2 772.6" fill="none" stroke="#000" stroke-width="2.6" stroke-linejoin="round"/>
<line x1="1039" y1="734.2" x2="1085.2" y2="734.2" stroke="#2c2c2c" stroke-width="1.2"/>
<line x1="1039" y1="773" x2="1085.2" y2="773" stroke="#2c2c2c" stroke-width="1.2"/>
<line x1="1077.2" y1="704.8" x2="1077.2" y2="802.5" stroke="#2c2c2c" stroke-width="1.2"/>
<polygon points="1077.2,734.2 1074.2,713.7 1077.2,715.75 1080.2,713.7" fill="#000"/>
<polygon points="1077.2,773 1080.2,793.5 1077.2,791.45 1074.2,793.5" fill="#000"/>
<text transform="translate(1053.16 759.3) scale(1.0212 1)" font-size="18.34">25</text>
<line x1="935.4" y1="772.6" x2="935.4" y2="841.4" stroke="#2c2c2c" stroke-width="1.2"/>
<line x1="1002.8" y1="772.6" x2="1002.8" y2="841.4" stroke="#2c2c2c" stroke-width="1.2"/>
<line x1="935.4" y1="832.3" x2="1002.8" y2="832.3" stroke="#2c2c2c" stroke-width="1.2"/>
<polygon points="935.6,832.3 956.1,829.3 954.05,832.3 956.1,835.3" fill="#000"/>
<polygon points="1002.6,832.3 982.1,835.3 984.15,832.3 982.1,829.3" fill="#000"/>
<text transform="translate(950.43 823.8) scale(0.9890 1)" font-size="18.88">ø20</text>
<text transform="translate(937.78 853.2) scale(0.7107 1)" font-size="21.92" font-style="italic" style="fill:#2e2e2e">2 места</text>
</svg>
</body>
</html>
